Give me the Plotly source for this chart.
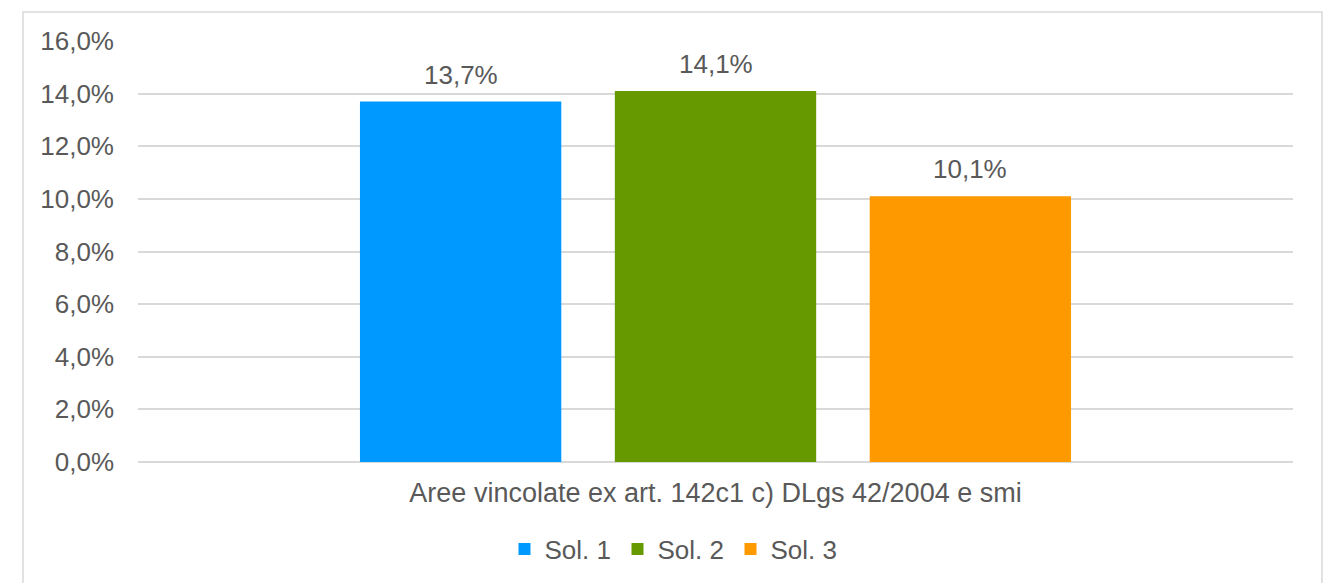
import plotly.graph_objects as go

# Share of constrained areas per solution (percent)
category = ["Aree vincolate ex art. 142c1 c) DLgs 42/2004 e smi"]
series_names = ["Sol. 1", "Sol. 2", "Sol. 3"]
series_values = [[13.7], [14.1], [10.1]]
series_colors = ["#0099FF", "#669900", "#FF9900"]
y_max, y_step = 16, 2

W, H = 1326, 583
L, R, T, B = 138, 33, 41, 120
pw, ph = W - L - R, H - T - B
FS = 26
GREY = "#595959"
BARGAP = 0.338

fig = go.Figure()
for name, vals, col in zip(series_names, series_values, series_colors):
    fig.add_trace(go.Bar(
        x=category, y=vals, name=name, marker=dict(color=col, line=dict(width=0)),
    ))

# value labels above each bar of the group
slot = (1 - BARGAP) / len(series_names)
annotations = []
for i, vals in enumerate(series_values):
    for j, v in enumerate(vals):
        annotations.append(dict(
            x=j + (i - (len(series_names) - 1) / 2) * slot, y=v, xref="x", yref="y",
            text=f"{v:.1f}%".replace(".", ","), showarrow=False,
            yanchor="middle", yshift=27, font=dict(size=FS, color=GREY),
        ))

def px_x(p):
    return (p - L) / pw

def px_y(p):
    return (H - B - p) / ph

fig.update_layout(
    width=W, height=H,
    margin=dict(l=L, r=R, t=T, b=B),
    paper_bgcolor="white", plot_bgcolor="white",
    separators=",.",
    barmode="group", bargap=BARGAP, bargroupgap=0.21,
    font=dict(family="Liberation Sans, Arial, sans-serif", color=GREY, size=FS),
    showlegend=True,
    legend=dict(orientation="h", x=px_x(674), xanchor="center", y=px_y(549), yanchor="middle",
                font=dict(size=FS, color=GREY), itemwidth=30, traceorder="normal",
                entrywidth=68, entrywidthmode="pixels"),
    xaxis=dict(showgrid=False, showline=False, ticks="", tickfont=dict(size=27),
               ticklabelstandoff=12),
    yaxis=dict(range=[0, y_max], tick0=0, dtick=y_step, tickformat=".1f", ticksuffix="%",
               showgrid=True, gridcolor="#D9D9D9", gridwidth=1.5, zeroline=True,
               zerolinecolor="#D9D9D9", zerolinewidth=1.5, showline=False, ticks="",
               tickfont=dict(size=FS), ticklabelstandoff=23),
    annotations=annotations,
    shapes=[dict(type="rect", xref="paper", yref="paper",
                 x0=px_x(23), x1=px_x(1322), y0=px_y(600), y1=px_y(12),
                 line=dict(color="#D9D9D9", width=1.5), fillcolor="rgba(0,0,0,0)", layer="below")],
)

fig.write_html("out.html")
